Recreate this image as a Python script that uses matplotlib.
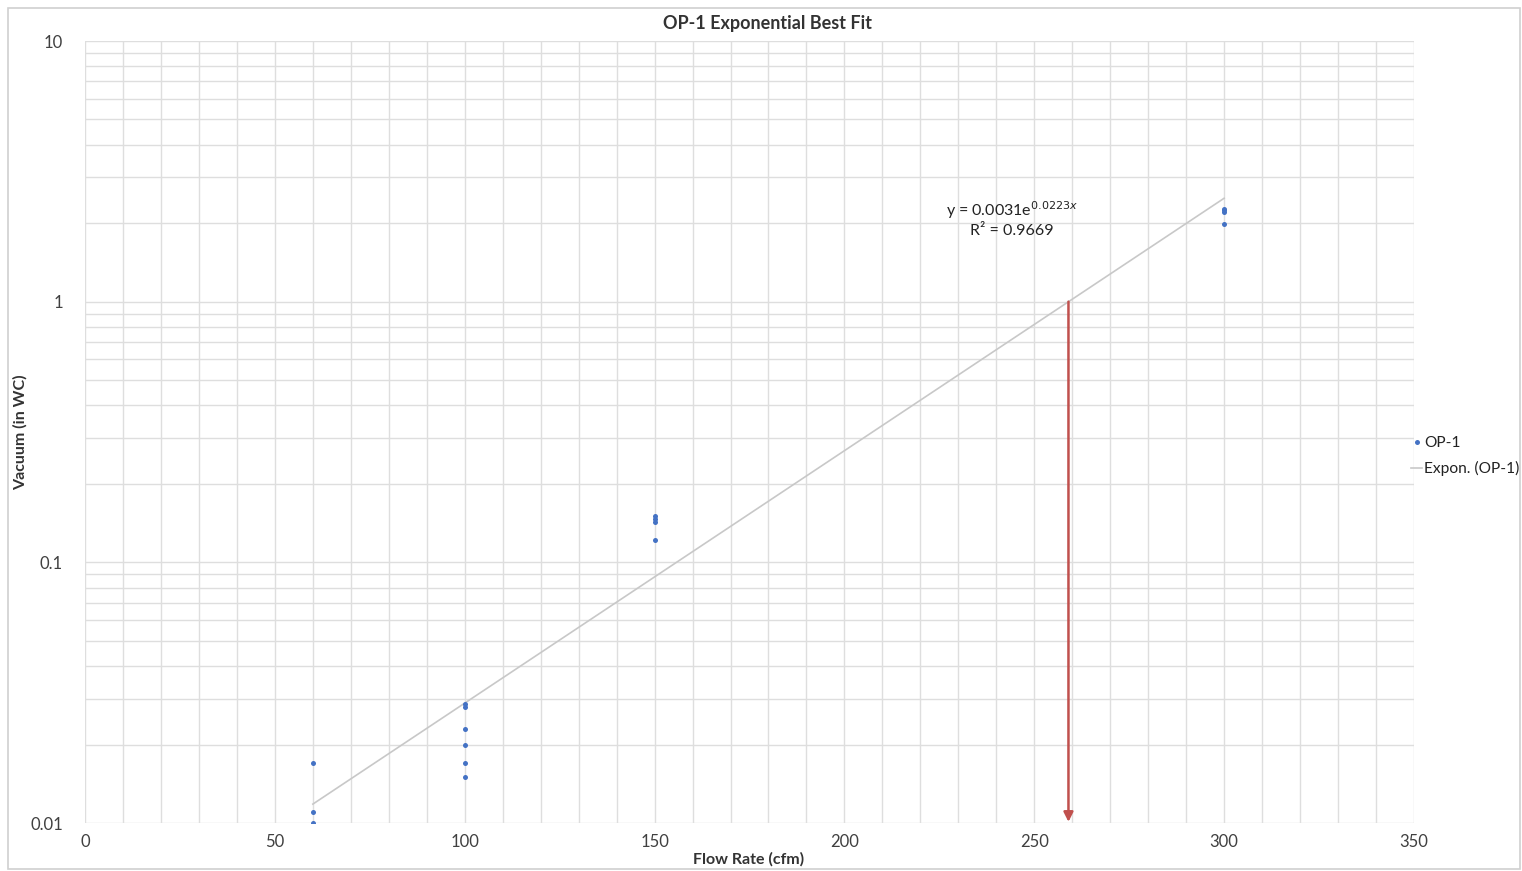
import numpy as np
import matplotlib
matplotlib.use("Agg")
import matplotlib.pyplot as plt
from matplotlib.lines import Line2D
from matplotlib.patches import Rectangle
from matplotlib.ticker import FixedLocator, NullFormatter

plt.rcParams['font.family'] = ['Lato', 'DejaVu Sans']

# Data
flow_x = [60, 60, 60,
          100, 100, 100, 100, 100, 100,
          150, 150, 150, 150,
          300, 300, 300, 300]
vacuum_y = [0.017, 0.011, 0.010,
            0.0286, 0.0279, 0.0229, 0.0199, 0.017, 0.0150,
            0.151, 0.147, 0.143, 0.122,
            2.27, 2.24, 2.21, 1.98]
fit_a = 0.0031
fit_b = 0.0223
fit_range = [60, 300]
target_flow = 259
target_vac = 1.0
x_ticks = [0, 50, 100, 150, 200, 250, 300, 350]
y_ticks = [0.01, 0.1, 1, 10]
y_tick_labels = ['0.01', '0.1', '1', '10']

fig = plt.figure(figsize=(15.22, 8.71), dpi=100)
ax = fig.add_axes([85/1522, 1-823/871, (1414-85)/1522, (823-41)/871])

grid_c = '#dedede'
ax.set_xlim(0, 350)
ax.set_yscale('log')
ax.set_ylim(0.01, 10)
ax.set_xticks(x_ticks)
ax.xaxis.set_minor_locator(FixedLocator(np.arange(0, 351, 10)))
ax.set_yticks(y_ticks)
ax.set_yticklabels(y_tick_labels)
ax.yaxis.set_minor_formatter(NullFormatter())
ax.grid(True, which='both', color=grid_c, linewidth=1.0)
ax.set_axisbelow(True)
for s in ax.spines.values():
    s.set_visible(False)
ax.tick_params(which='both', length=0, labelsize=12, colors='#404040', pad=8)
ax.tick_params(axis='y', pad=16)

# Trendline
xf = np.linspace(fit_range[0], fit_range[1], 200)
yf = fit_a * np.exp(fit_b * xf)
ax.plot(xf, yf, color='#c8c8c8', linewidth=1.2, zorder=2)

# Scatter
ax.plot(flow_x, vacuum_y, 'o', color='#4472c4', markersize=3.6,
        markeredgewidth=0, zorder=3)

# Red arrow
ax.annotate('', xy=(target_flow, 0.0101), xytext=(target_flow, target_vac),
            arrowprops=dict(arrowstyle='-|>', color='#c0504d', lw=1.8,
                            mutation_scale=14, shrinkA=0, shrinkB=0), zorder=4)

# Equation
ax.text(1012/1522, 1-210/871, r'y = 0.0031e$^{0.0223x}$', transform=fig.transFigure,
        ha='center', va='center', fontsize=11.5, color='#222222')
ax.text(1012/1522, 1-231/871, 'R² = 0.9669', transform=fig.transFigure,
        ha='center', va='center', fontsize=11.5, color='#222222')

fig.text(768/1522, 1-24/871, 'OP-1 Exponential Best Fit', ha='center', va='center',
         fontsize=13, fontweight='bold', color='#333333')
fig.text(749/1522, 1-859/871, 'Flow Rate (cfm)', ha='center', va='center',
         fontsize=11.5, fontweight='bold', color='#333333')
fig.text(20/1522, 1-432/871, 'Vacuum (in WC)', ha='center', va='center',
         fontsize=11.5, fontweight='bold', color='#333333', rotation=90)

handles = [Line2D([], [], marker='o', linestyle='none', color='#4472c4', markersize=3.6,
                  markeredgewidth=0),
           Line2D([], [], color='#c8c8c8', linewidth=1.2)]
fig.legend(handles, ['OP-1', 'Expon. (OP-1)'], loc='center left',
           bbox_to_anchor=(1408/1522, 1-456/871), frameon=False, fontsize=11.2,
           handlelength=0.7, handletextpad=0.15, labelspacing=0.7, labelcolor='#222222',
           borderpad=0.2, borderaxespad=0.0)

fig.patches.append(Rectangle((8/1522, 1-869/871), (1520-8)/1522, (869-8)/871,
                             transform=fig.transFigure, fill=False,
                             edgecolor='#d0d0d0', linewidth=1.2))

fig.savefig('out.png', dpi=100, facecolor='white')
